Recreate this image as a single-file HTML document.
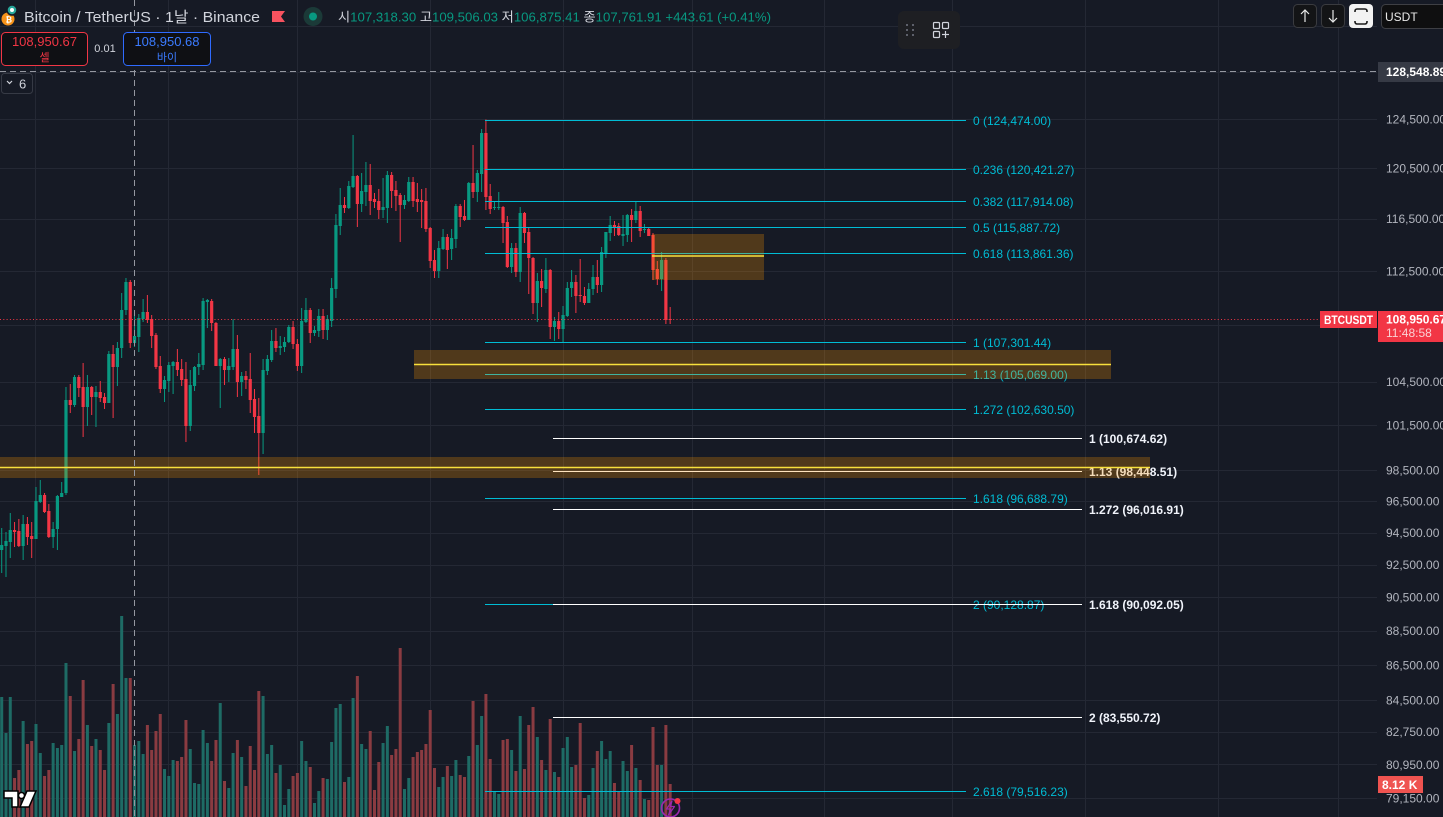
<!DOCTYPE html>
<html><head><meta charset="utf-8">
<style>
html,body{margin:0;padding:0;background:#161a25;width:1443px;height:817px;overflow:hidden;}
body{position:relative;font-family:"Liberation Sans","Noto Sans CJK KR",sans-serif;}
svg{position:absolute;left:0;top:0;}
text{font-family:"Liberation Sans","Noto Sans CJK KR",sans-serif;}
</style></head><body>
<svg id="chart" width="1443" height="817" viewBox="0 0 1443 817" xmlns="http://www.w3.org/2000/svg">
<rect x="0" y="0" width="1443" height="817" fill="#161a25"/>
<g id="grid"></g>
<g id="vol"></g>
<g id="cdl"></g>
<g id="fib"></g>
<g id="boxes"></g>
<g id="axis"></g>
<!-- price line -->
<line x1="0" y1="319.5" x2="1320" y2="319.5" stroke="#f23645" stroke-width="1" stroke-dasharray="1 2.3"/>
<!-- crosshair -->
<line x1="134.5" y1="0" x2="134.5" y2="817" stroke="#9598a1" stroke-width="1" stroke-dasharray="6 4"/>
<line x1="0" y1="71.5" x2="1377" y2="71.5" stroke="#9598a1" stroke-width="1" stroke-dasharray="6 4"/>

<!-- axis labels special -->
<rect x="1378" y="62" width="65" height="20" fill="#363a45"/>
<text x="1386" y="76" font-size="12" font-weight="700" fill="#ffffff">128,548.89</text>
<rect x="1320" y="311" width="57" height="17" fill="#f23645"/>
<text x="1324" y="324" font-size="12" font-weight="700" fill="#ffffff" textLength="49" lengthAdjust="spacingAndGlyphs">BTCUSDT</text>
<rect x="1378" y="311" width="65" height="31" fill="#f23645"/>
<text x="1386" y="323.5" font-size="12" font-weight="700" fill="#ffffff">108,950.67</text>
<text x="1386" y="337" font-size="12" fill="#fbd0d3">11:48:58</text>
<rect x="1378" y="776" width="45" height="17" fill="#ef5350"/>
<text x="1382" y="789" font-size="12" font-weight="700" fill="#ffffff">8.12 K</text>

<!-- header -->
<circle cx="8" cy="19" r="6.5" fill="#f7931a"/>
<text x="5.5" y="22.5" font-size="8" font-weight="700" fill="#fff">₿</text>
<circle cx="12" cy="10" r="5" fill="#26a69a" stroke="#161a25" stroke-width="1.5"/>
<circle cx="12" cy="10" r="2" fill="#ffffff"/>
<text x="24" y="22" font-size="15" fill="#d1d4dc" textLength="236" lengthAdjust="spacingAndGlyphs">Bitcoin / TetherUS · 1날 · Binance</text>
<polygon points="272,11 285,11 281,16.5 285,22 272,22" fill="#f7525f"/>
<circle cx="313" cy="16.5" r="9.5" fill="#1b3a38"/>
<circle cx="313" cy="16.5" r="4" fill="#089981"/>
<text x="338" y="21.5" font-size="13" fill="#d1d4dc" textLength="433" lengthAdjust="spacingAndGlyphs">시<tspan fill="#089981">107,318.30</tspan> 고<tspan fill="#089981">109,506.03</tspan> 저<tspan fill="#089981">106,875.41</tspan> 종<tspan fill="#089981">107,761.91</tspan> <tspan fill="#089981">+443.61 (+0.41%)</tspan></text>

<!-- sell / buy -->
<rect x="1.5" y="32.5" width="86" height="33" rx="4" fill="#0f1014" stroke="#f23645"/>
<text x="44.5" y="46" font-size="13" fill="#f23645" text-anchor="middle">108,950.67</text>
<text x="44.5" y="61" font-size="11" fill="#f23645" text-anchor="middle">셀</text>
<text x="105" y="52" font-size="11" fill="#d1d4dc" text-anchor="middle">0.01</text>
<rect x="123.5" y="32.5" width="87" height="33" rx="4" fill="#0f1014" stroke="#2f6bff"/>
<text x="167" y="46" font-size="13" fill="#3b7bff" text-anchor="middle">108,950.68</text>
<text x="167" y="61" font-size="11" fill="#3b7bff" text-anchor="middle">바이</text>

<!-- collapse box -->
<rect x="1.5" y="73.5" width="31" height="20" rx="3" fill="#161a25" stroke="#363a45"/>
<polyline points="7,81 9.5,83.5 12,81" fill="none" stroke="#d1d4dc" stroke-width="1.2"/>
<text x="19" y="88.5" font-size="13" fill="#d1d4dc">6</text>

<!-- floating toolbar -->
<rect x="898" y="11" width="62" height="38" rx="6" fill="#1e1f23"/>
<g fill="#5d606b">
<rect x="906" y="24" width="2" height="2"/><rect x="912" y="24" width="2" height="2"/>
<rect x="906" y="29" width="2" height="2"/><rect x="912" y="29" width="2" height="2"/>
<rect x="906" y="34" width="2" height="2"/><rect x="912" y="34" width="2" height="2"/>
</g>
<g fill="none" stroke="#d1d4dc" stroke-width="1.2">
<rect x="933.5" y="22.5" width="6" height="6" rx="1"/>
<rect x="942.5" y="22.5" width="6" height="6" rx="1"/>
<rect x="933.5" y="31.5" width="6" height="6" rx="1"/>
<line x1="942" y1="34.5" x2="949" y2="34.5"/>
<line x1="945.5" y1="31" x2="945.5" y2="38"/>
</g>

<!-- top right buttons -->
<rect x="1293.5" y="4.5" width="23" height="23" rx="4" fill="#131416" stroke="#3a3b3f"/>
<g stroke="#e8e8e8" stroke-width="1.2" fill="none"><line x1="1305" y1="10" x2="1305" y2="22"/><polyline points="1301,14 1305,10 1309,14"/></g>
<rect x="1321.5" y="4.5" width="23" height="23" rx="4" fill="#131416" stroke="#3a3b3f"/>
<g stroke="#e8e8e8" stroke-width="1.2" fill="none"><line x1="1333" y1="10" x2="1333" y2="22"/><polyline points="1329,18 1333,22 1337,18"/></g>
<rect x="1349" y="4" width="24" height="24" rx="4" fill="#f2f2f2"/>
<g stroke="#1a1a1a" stroke-width="1.6" fill="none"><path d="M1355,12 v-1 a2,2 0 0 1 2,-2 h8 a2,2 0 0 1 2,2 v1"/><path d="M1355,21 v1 a2,2 0 0 0 2,2 h8 a2,2 0 0 0 2,-2 v-1"/></g>
<rect x="1381.5" y="4.5" width="70" height="24" rx="4" fill="#0f0f10" stroke="#3e3f44"/>
<text x="1385" y="21" font-size="12" fill="#e8e8e8">USDT</text>

<!-- TV logo -->
<g stroke="#000" stroke-width="1.5" fill="#fff" stroke-linejoin="miter">
<path d="M4,791 H18 V807 H12 V798 H4 Z"/>
<circle cx="21.5" cy="795.5" r="3"/>
<path d="M27,791 H36 L29,807 H20 Z"/>
</g>
<!-- lightning -->
<circle cx="670.5" cy="808" r="9" fill="none" stroke="#9c27b0" stroke-width="1.6"/>
<path d="M672,801 L666.5,809 H670.5 L668.5,815 L674.5,806.5 H670.5 Z" fill="none" stroke="#9c27b0" stroke-width="1.2" stroke-linejoin="round"/>
<circle cx="677.5" cy="801" r="3" fill="#f23645"/>
</svg>

<script>
(function(){
var Y=function(p){return 119.3+Math.log(124500/p)*1498.8;};
var s='';
[35,168,297,430,563,692,824,952,1085,1218,1338].forEach(function(x){
  s+='<line x1="'+(x+.5)+'" y1="0" x2="'+(x+.5)+'" y2="817" stroke="#242834" stroke-width="1"/>';
});
var ticks=[132500,128500,124500,120500,116500,112500,108500,104500,101500,98500,96500,94500,92500,90500,88500,86500,84500,82750,80950,79150];
ticks.forEach(function(p){var y=Math.round(Y(p))+.5;
  s+='<line x1="0" y1="'+y+'" x2="1377" y2="'+y+'" stroke="#242834" stroke-width="1"/>';});
document.getElementById('grid').innerHTML=s;

s='';
var labs=[[124500,'124,500.00'],[120500,'120,500.00'],[116500,'116,500.00'],[112500,'112,500.00'],[104500,'104,500.00'],[101500,'101,500.00'],[98500,'98,500.00'],[96500,'96,500.00'],[94500,'94,500.00'],[92500,'92,500.00'],[90500,'90,500.00'],[88500,'88,500.00'],[86500,'86,500.00'],[84500,'84,500.00'],[82750,'82,750.00'],[80950,'80,950.00'],[79150,'79,150.00']];
labs.forEach(function(l){var y=Y(l[0]);
  s+='<text x="1386" y="'+(y+4.3).toFixed(1)+'" font-size="12" fill="#b2b5be">'+l[1]+'</text>';});
document.getElementById('axis').innerHTML=s;

var V="697G,733G,697G,778R,770R,721G,744R,741R,724G,753G,776R,770R,743G,748G,745G,663G,696R,751G,739R,680R,725G,746R,739G,750R,770R,723G,684R,714G,616G,678G,678R,745G,741G,754G,725R,750R,731R,714R,769G,776G,760G,761R,757R,720R,749G,783G,784G,730G,743G,761R,740R,703G,781R,788G,753G,740R,757G,786R,746R,770R,691R,696G,754G,745G,773R,765G,805G,789G,776R,773R,741G,761G,767R,803G,791G,778R,779G,742G,708G,704G,782R,777G,698G,676R,744G,749G,731R,790R,762R,743G,726G,755R,749R,648R,789G,778G,757R,752R,750R,744R,710R,768R,787G,777G,766R,776G,760G,775R,777R,756G,701R,745G,716G,694R,759R,791G,794G,740R,739R,750G,771R,716G,769R,725R,707R,737G,760R,770G,719R,772G,777R,748G,737G,767G,765R,723R,798R,795G,768G,751R,741G,759G,751G,783R,791R,761G,771G,745R,768G,780R,799G,800R,727R,765R,765G,725R,784R".split(',');
s='';
V.forEach(function(v,i){var t=parseFloat(v),g=v.slice(-1)==='G';var x=1.7+i*4.285;
  s+='<rect x="'+(x-1.5).toFixed(2)+'" y="'+t+'" width="3" height="'+(817-t)+'" fill="'+(g?'#1e6b65':'#8a3b41')+'"/>';});
document.getElementById('vol').innerHTML=s;

var C=[[545,550,528,573,1],[541,546,532,577,1],[530,542,513,558,1],[530,532,522,547,0],[531,546,519,547,0],[524,546,515,560,1],[524,537,517,545,0],[536,539,522,558,0],[501,539,487,539,1],[495,502,480,503,1],
[495,512,493,513,0],[511,537,504,538,0],[529,537,522,548,1],[496,529,495,550,1],[493,497,482,497,1],[400,493,387,495,1],[400,405,384,413,0],[377,405,375,407,1],[377,388,375,397,0],[387,407,363,437,0],
[387,407,375,426,1],[387,397,386,415,0],[392,397,386,427,1],[392,398,381,402,0],[397,403,393,409,0],[354,403,351,403,1],[354,367,345,418,0],[348,367,342,386,1],[310,348,293,358,1],[282,310,278,315,1],
[282,343,280,348,0],[336,343,313,347,1],[318,337,314,352,1],[312,319,299,322,1],[312,320,295,323,0],[319,336,315,348,0],[335,367,333,369,0],[366,389,356,393,0],[380,389,376,402,1],[365,381,362,392,1],
[362,366,361,394,1],[362,370,349,376,0],[369,380,359,386,0],[379,426,362,442,0],[385,426,370,431,1],[367,386,366,391,1],[364,367,353,375,1],[301,365,298,370,1],[300,302,299,328,1],[301,323,299,331,0],
[323,366,322,366,0],[359,366,358,408,1],[359,370,357,385,0],[366,370,358,382,1],[349,367,319,370,1],[349,382,335,397,0],[376,382,372,396,1],[376,380,371,389,0],[379,400,353,413,0],[399,417,389,433,0],
[416,433,398,475,0],[370,433,359,454,1],[359,371,355,375,1],[341,360,330,362,1],[341,348,328,352,0],[346,348,336,355,1],[342,347,337,352,1],[327,342,325,343,1],[327,344,321,349,0],[344,366,339,371,0],
[321,366,308,373,1],[310,322,298,323,1],[310,333,308,343,0],[330,333,326,336,1],[316,331,309,337,1],[316,330,309,339,0],[319,330,315,340,1],[288,321,278,327,1],[225,289,214,298,1],[205,226,188,235,1],
[205,208,197,213,0],[186,208,181,209,1],[176,187,135,188,1],[176,204,175,227,0],[191,204,173,212,1],[185,192,162,206,1],[185,201,164,215,0],[199,202,193,208,0],[201,210,189,219,0],[207,210,178,218,1],
[175,208,171,223,1],[175,191,172,208,0],[190,196,181,211,0],[195,205,193,242,0],[200,205,195,209,1],[182,201,177,202,1],[182,201,177,207,0],[199,202,183,212,0],[200,202,189,228,0],[201,229,188,232,0],
[228,261,227,268,0],[260,271,250,278,0],[248,271,241,278,1],[237,249,229,250,1],[237,250,234,269,0],[238,249,229,260,1],[206,239,204,248,1],[206,217,204,227,0],[216,220,200,221,0],[183,220,182,220,1],
[183,192,145,198,0],[173,192,170,202,1],[133,174,129,192,1],[133,197,119.5,210,0],[196,209,184,214,0],[207,208,202,210,1],[207,208,192,210,1],[207,223,206,243,0],[222,267,216,268,0],[248,267,243,273,1],
[248,272,243,277,0],[213,272,207,282,1],[213,233,212,243,0],[232,258,228,294,0],[258,303,257,314,0],[281,303,273,322,1],[281,288,269,307,0],[270,289,258,293,1],[270,327,269,339,0],[321,327,317,341,1],
[321,329,312,339,0],[315,329,306,342,1],[288,316,282,317,1],[282,288,270,297,1],[282,296,275,313,0],[295,296,259,302,0],[296,303,287,305,0],[289,303,283,303,1],[277,289,265,295,1],[277,285,260,293,0],
[252,285,247,292,1],[232,253,232,258,1],[225,233,216,241,1],[225,227,221,236,0],[226,235,223,236,0],[234,236,215,246,1],[215,235,214,242,1],[215,220,209,242,0],[211,220,202,223,1],[211,231,206,237,0],
[229,230,224,233,1],[229,236,228,236,0],[235,270,233,280,0],[269,279,261,285,0],[260,279,252,291,1],[260,320,258,324,0],[319,320,307,324,0]];
s='';
C.forEach(function(c,i){var x=1.7+i*4.285;var col=c[4]?'#089981':'#f23645';
  s+='<rect x="'+(x-0.5).toFixed(2)+'" y="'+c[2]+'" width="1" height="'+(c[3]-c[2])+'" fill="'+col+'"/>';
  s+='<rect x="'+(x-1.6).toFixed(2)+'" y="'+c[0]+'" width="3.2" height="'+Math.max(1,c[1]-c[0])+'" fill="'+col+'"/>';});
document.getElementById('cdl').innerHTML=s;

s='';
var L=[[124474,'0 (124,474.00)'],[120421.27,'0.236 (120,421.27)'],[117914.08,'0.382 (117,914.08)'],[115887.72,'0.5 (115,887.72)'],[113861.36,'0.618 (113,861.36)'],[107301.44,'1 (107,301.44)'],[105069,'1.13 (105,069.00)'],[102630.5,'1.272 (102,630.50)'],[96688.79,'1.618 (96,688.79)'],[90128.87,'2 (90,128.87)'],[79516.23,'2.618 (79,516.23)']];
L.forEach(function(l){var y=Math.round(Y(l[0]))+.5;
  s+='<line x1="485" y1="'+y+'" x2="966" y2="'+y+'" stroke="#00bcd4" stroke-width="1"/>';
  s+='<text x="973" y="'+(y+4.3).toFixed(1)+'" font-size="12" fill="#00bcd4">'+l[1]+'</text>';});
var R=[[100674.62,'1 (100,674.62)'],[98448.51,'1.13 (98,448.51)'],[96016.91,'1.272 (96,016.91)'],[90092.05,'1.618 (90,092.05)'],[83550.72,'2 (83,550.72)']];
R.forEach(function(l){var y=Math.round(Y(l[0]))+.5;
  s+='<line x1="553" y1="'+y+'" x2="1082" y2="'+y+'" stroke="#ffffff" stroke-width="1"/>';
  s+='<text x="1089" y="'+(y+4.3).toFixed(1)+'" font-size="12" font-weight="700" fill="#f0f3fa">'+l[1]+'</text>';});
document.getElementById('fib').innerHTML=s;

s='';
var bf='rgba(255,152,0,0.25)';
s+='<rect x="652" y="234" width="112" height="46" fill="'+bf+'"/>';
s+='<line x1="652" y1="256" x2="764" y2="256" stroke="#f7e03c" stroke-width="1.5"/>';
s+='<rect x="414" y="350" width="697" height="29" fill="'+bf+'"/>';
s+='<line x1="414" y1="364.5" x2="1111" y2="364.5" stroke="#f7e03c" stroke-width="1.5"/>';
s+='<rect x="0" y="457" width="1150" height="21" fill="'+bf+'"/>';
s+='<line x1="0" y1="467.5" x2="1150" y2="467.5" stroke="#f7e03c" stroke-width="1.5"/>';
document.getElementById('boxes').innerHTML=s;
})();
</script>
</body></html>
